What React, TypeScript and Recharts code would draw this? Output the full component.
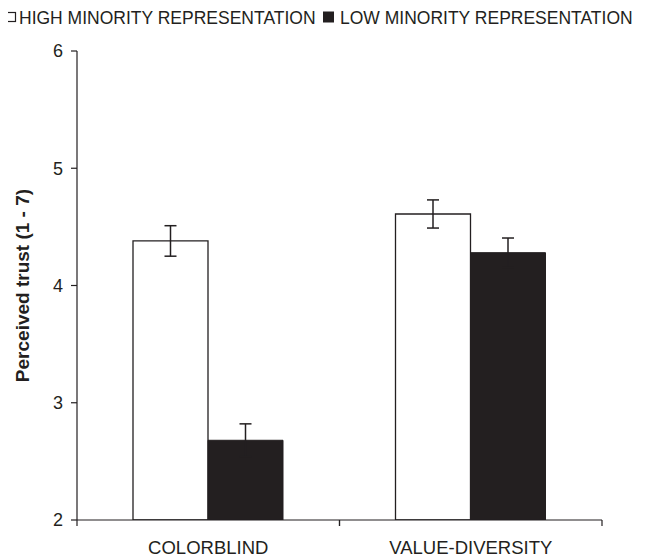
import React from 'react';
import { BarChart, Bar, XAxis, YAxis, ErrorBar } from 'recharts';

const categories = ['COLORBLIND', 'VALUE-DIVERSITY'];
const highValues = [4.38, 4.61];
const highErrors = [0.13, 0.12];
const lowValues = [2.68, 4.28];
const lowErrors = [0.14, 0.125];
const yTicks = [2, 3, 4, 5, 6];
const seriesNames = ['HIGH MINORITY REPRESENTATION', 'LOW MINORITY REPRESENTATION'];
const yTitle = 'Perceived trust (1 - 7)';

const data = categories.map((c, i) => ({
  category: c,
  high: highValues[i],
  highErr: highErrors[i],
  low: lowValues[i],
  lowErr: lowErrors[i],
}));

const INK = '#231f20';
const FONT = '"Liberation Sans", Arial, Helvetica, sans-serif';

const XTick = (props: any) => {
  const { x, y, payload } = props;
  const half = payload && typeof payload.offset === 'number' && payload.offset > 0 ? payload.offset : 131.25;
  return (
    <g>
      <line x1={x - half} x2={x - half} y1={y} y2={y + 6} stroke={INK} strokeWidth={1.2} />
      <line x1={x + half} x2={x + half} y1={y} y2={y + 6} stroke={INK} strokeWidth={1.2} />
      <text x={x} y={y + 34} textAnchor="middle" fontSize={18.5} fill={INK} fontFamily={FONT}>
        {payload.value}
      </text>
    </g>
  );
};

const LegendBlock = () => (
  <svg width={652} height={30} style={{ position: 'absolute', left: 0, top: -8, display: 'block', overflow: 'visible' }}>
    <rect x={6.5} y={12.5} width={9} height={9} fill="#fff" stroke={INK} strokeWidth={1.2} />
    <text x={19} y={23.5} fontSize={17.5} fill={INK} fontFamily={FONT}>
      {seriesNames[0]}
    </text>
    <rect x={323} y={11.5} width={11} height={11} fill={INK} />
    <text x={340} y={23.5} fontSize={17.5} fill={INK} fontFamily={FONT}>
      {seriesNames[1]}
    </text>
  </svg>
);

const YTitle = (props: any) => {
  const vb = props.viewBox || { x: 8, y: 43, width: 69, height: 469 };
  const cx = vb.x + 14;
  const cy = vb.y + vb.height / 2;
  return (
    <text
      x={cx}
      y={cy}
      transform={`rotate(-90, ${cx}, ${cy})`}
      textAnchor="middle"
      dominantBaseline="central"
      fontSize={19}
      fontWeight="bold"
      fill={INK}
      fontFamily={FONT}
    >
      {yTitle}
    </text>
  );
};

export default function App() {
  return (
    <div style={{ position: 'relative', width: 652, height: 549, marginLeft: -8, fontFamily: FONT }}>
      <BarChart
        width={652}
        height={549}
        data={data}
        margin={{ top: 43, right: 50, left: 8, bottom: 0 }}
        barGap={0}
      >
        <XAxis
          dataKey="category"
          height={37}
          tickSize={0}
          tickMargin={0}
          tickLine={false}
          axisLine={{ stroke: INK, strokeWidth: 1.2 }}
          tick={<XTick />}
          interval={0}
        />
        <YAxis
          width={69}
          domain={[2, 6]}
          ticks={yTicks}
          allowDataOverflow
          tickSize={6}
          tickMargin={8}
          axisLine={{ stroke: INK, strokeWidth: 1.2 }}
          tickLine={{ stroke: INK, strokeWidth: 1.2 }}
          tick={{ fontSize: 18, fill: INK, fontFamily: FONT }}
          label={<YTitle />}
        />
        <Bar dataKey="high" name={seriesNames[0]} fill="#ffffff" stroke={INK} strokeWidth={1.3} barSize={75} isAnimationActive={false}>
          <ErrorBar dataKey="highErr" width={6} stroke={INK} strokeWidth={1.5} direction="y" />
        </Bar>
        <Bar dataKey="low" name={seriesNames[1]} fill={INK} stroke={INK} strokeWidth={1} barSize={75} isAnimationActive={false}>
          <ErrorBar dataKey="lowErr" width={6} stroke={INK} strokeWidth={1.5} direction="y" />
        </Bar>
      </BarChart>
      <LegendBlock />
    </div>
  );
}
